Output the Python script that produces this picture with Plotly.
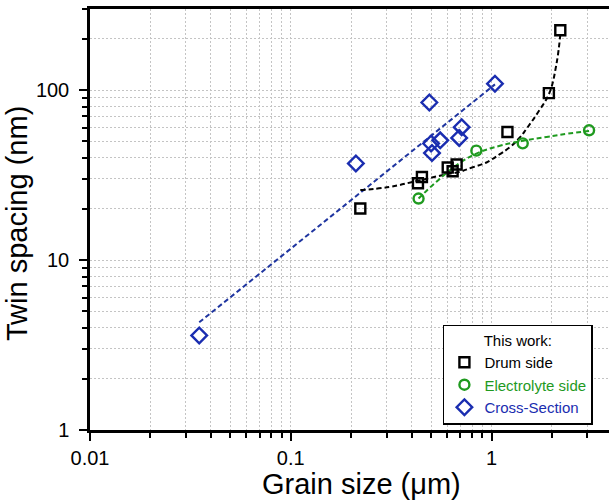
import plotly.graph_objects as go

# ---- data ----
drum_x = [0.222, 0.43, 0.45, 0.605, 0.64, 0.67, 1.2, 1.93, 2.2]
drum_y = [20.1, 28.3, 30.8, 35.0, 33.3, 36.5, 56.7, 96, 225]

elec_x = [0.433, 0.84, 1.43, 3.06]
elec_y = [23.0, 44.0, 48.6, 58.0]

cross_x = [0.035, 0.211, 0.49, 0.50, 0.505, 0.555, 0.69, 0.71, 1.04]
cross_y = [3.6, 37.0, 84.5, 48.5, 42.6, 50.6, 52.3, 60.5, 109]

# fitted guide curves as drawn in the reference
drum_fit_x = [0.222, 0.31, 0.43, 0.6, 0.69, 0.8, 0.944, 1.0, 1.1, 1.23, 1.38, 1.49, 1.73, 1.94, 2.1, 2.2]
drum_fit_y = [25.8, 26.9, 29.3, 32.0, 33.0, 35.0, 37.5, 39.0, 42.0, 46.0, 52.5, 59.0, 76.0, 96.0, 140.0, 212.0]

elec_fit_x = [0.433, 0.53, 0.69, 0.84, 1.1, 1.43, 1.88, 2.4, 3.06]
elec_fit_y = [23.0, 28.8, 37.0, 42.3, 47.0, 50.3, 53.0, 55.4, 57.5]

cross_fit_x = [0.035, 1.04]
cross_fit_y = [4.3, 108]

x_ticks = [0.01, 0.1, 1]
x_tick_text = ["0.01", "0.1", "1"]
y_ticks = [1, 10, 100]
y_tick_text = ["1", "10", "100"]

BLACK = "#000000"
GREEN = "#1f9a1f"
BLUE = "#1a2db0"
BLUE_LINE = "#1f35a0"

FONT = "Liberation Sans, Arial, sans-serif"
GRIDC = "#c4c4c4"

fig = go.Figure()

# guide lines
fig.add_trace(go.Scatter(x=cross_fit_x, y=cross_fit_y, mode="lines",
                         line=dict(color=BLUE_LINE, width=2, dash="5px,3px"),
                         showlegend=False, hoverinfo="skip"))
fig.add_trace(go.Scatter(x=drum_fit_x, y=drum_fit_y, mode="lines",
                         line=dict(color=BLACK, width=2, dash="5px,3px", shape="spline", smoothing=1.2),
                         showlegend=False, hoverinfo="skip"))
fig.add_trace(go.Scatter(x=elec_fit_x, y=elec_fit_y, mode="lines",
                         line=dict(color=GREEN, width=2, dash="5px,3px", shape="spline", smoothing=1.3),
                         showlegend=False, hoverinfo="skip"))

# markers
fig.add_trace(go.Scatter(x=drum_x, y=drum_y, mode="markers",
                         name="Drum side",
                         marker=dict(symbol="square-open", size=10, color=BLACK, line=dict(width=2.4))))
fig.add_trace(go.Scatter(x=elec_x, y=elec_y, mode="markers",
                         name=f'<span style="color:{GREEN}">Electrolyte side</span>',
                         marker=dict(symbol="circle-open", size=10, color=GREEN, line=dict(width=2.4))))
fig.add_trace(go.Scatter(x=cross_x, y=cross_y, mode="markers",
                         name=f'<span style="color:{BLUE}">Cross-Section</span>',
                         marker=dict(symbol="diamond-open", size=12, color=BLUE, line=dict(width=2.4))))

grid = dict(showgrid=True, gridcolor=GRIDC, gridwidth=1, griddash="2px,2px")
minor = dict(dtick="D1", ticks="outside", ticklen=5, tickwidth=1.5, tickcolor="black",
             showgrid=True, gridcolor=GRIDC, gridwidth=1, griddash="2px,2px")

fig.update_xaxes(
    type="log", range=[-2, 0.585],
    tickvals=x_ticks, ticktext=x_tick_text,
    ticks="outside", ticklen=8, tickwidth=2, tickcolor="black",
    showline=True, linecolor="black", linewidth=2.5, mirror=True,
    tickfont=dict(size=20, color="black", family=FONT),
    minor=minor, zeroline=False, **grid,
)
fig.update_yaxes(
    type="log", range=[0, 2.477],
    tickvals=y_ticks, ticktext=y_tick_text,
    ticks="outside", ticklen=8, tickwidth=2, tickcolor="black",
    showline=True, linecolor="black", linewidth=2.5,
    tickfont=dict(size=20, color="black", family=FONT),
    ticklabelstandoff=6,
    minor=minor, zeroline=False, **grid,
)

fig.add_annotation(text="Grain size (\u03bcm)", xref="paper", yref="paper",
                   x=0.524, y=-0.128, xanchor="center", yanchor="middle",
                   showarrow=False, font=dict(size=29, color="black", family=FONT))
fig.add_annotation(text="Twin spacing (nm)", xref="paper", yref="paper",
                   x=-0.142, y=0.49, xanchor="center", yanchor="middle", textangle=-90,
                   showarrow=False, font=dict(size=29, color="black", family=FONT))

fig.update_layout(
    width=609, height=501,
    margin=dict(l=90, r=0, t=9, b=71),
    paper_bgcolor="white", plot_bgcolor="white",
    font=dict(family=FONT, color="black"),
    showlegend=True,
    legend=dict(
        title=dict(text="         This work:", font=dict(size=15, color="black", family=FONT)),
        x=0.68, y=0.012, xanchor="left", yanchor="bottom",
        bgcolor="white", bordercolor="black", borderwidth=1.5,
        font=dict(size=15, color="black", family=FONT),
        itemwidth=30, tracegroupgap=0,
    ),
)

fig.write_html("out.html")
